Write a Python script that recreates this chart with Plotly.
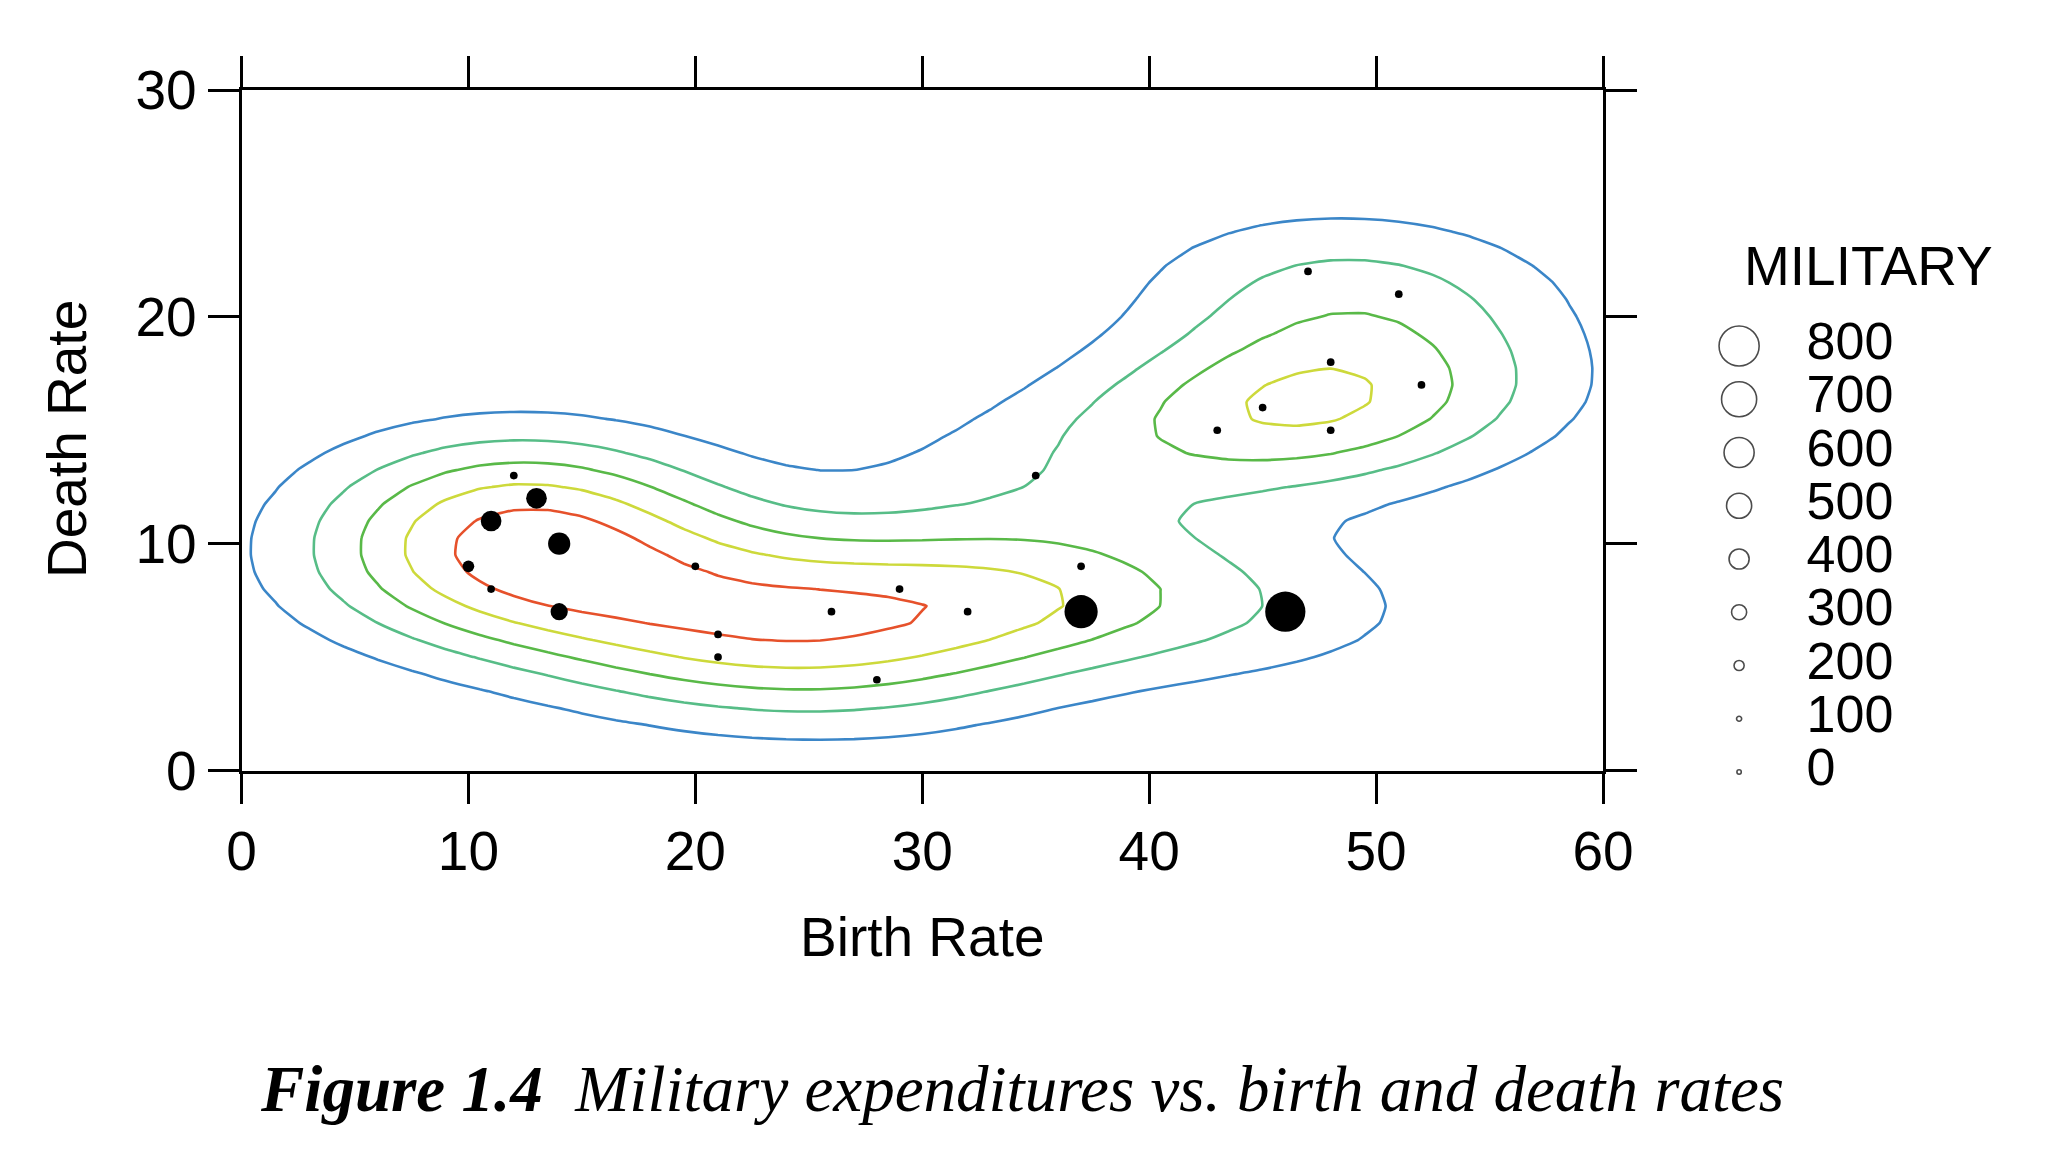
import numpy as np
import plotly.graph_objects as go

# ---------------- data ----------------
birth_rate = [12, 13, 11, 14, 10, 11, 14, 20, 21, 21, 26, 29, 32, 28, 37,
              37, 46, 35, 47, 51, 48, 52, 45, 43, 48]
death_rate = [13, 12, 11, 10, 9, 8, 7, 9, 6, 5, 7, 8, 7, 4, 9,
              7, 7, 13, 22, 21, 18, 17, 16, 15, 15]
military = [120, 380, 380, 410, 200, 120, 310, 120, 120, 120, 120, 120, 120, 120, 120,
            630, 770, 120, 120, 120, 120, 120, 120, 120, 120]
legend_values = [800, 700, 600, 500, 400, 300, 200, 100, 0]
x_ticks = [0, 10, 20, 30, 40, 50, 60]
y_ticks = [0, 10, 20, 30]
contour_colors = ["#3b86c8", "#57bd87", "#59b948", "#cdd93b", "#e6512b"]

W, H = 2046, 1164
FONT = "Liberation Sans"


def size_px(v):
    d = 1.7 + 0.05 * np.asarray(v, dtype=float)
    return np.maximum(d, 6.0)


# ---------------- kernel density (product Gaussian kernel) ----------------
bx = np.array(birth_rate, float)
dy = np.array(death_rate, float)
hx, hy = 6.2, 2.35
gx = np.arange(-6, 66.01, 1.5)
gy = np.arange(-4, 34.01, 0.75)
X, Y = np.meshgrid(gx, gy)
Z = np.zeros_like(X)
for xi, yi in zip(bx, dy):
    Z += np.exp(-0.5 * (((X - xi) / hx) ** 2 + ((Y - yi) / hy) ** 2))
Z /= Z.max()

lev_start, lev_step, n_lev = 0.17, 0.17, 5
lev_end = lev_start + lev_step * (n_lev - 1)
cscale = [[i / (n_lev - 1), c] for i, c in enumerate(contour_colors)]

fig = go.Figure()
fig.add_trace(go.Contour(
    x=gx, y=gy, z=Z,
    contours=dict(coloring="lines", start=lev_start, end=lev_end + 1e-6, size=lev_step),
    colorscale=cscale, zmin=lev_start, zmax=lev_end, zauto=False,
    line=dict(width=2.6, smoothing=0.5),
    showscale=False, hoverinfo="skip",
))

fig.add_trace(go.Scatter(
    x=birth_rate, y=death_rate, mode="markers",
    marker=dict(size=size_px(military), color="#000000", opacity=1, line=dict(width=0)),
    showlegend=False, hoverinfo="skip",
))

# ---------------- size legend on its own axes ----------------
fig.add_trace(go.Scatter(
    x=[0.25] * len(legend_values), y=legend_values, mode="markers",
    marker=dict(symbol="circle-open", size=size_px(legend_values) - 1.6, color="black",
                line=dict(width=1.6)),
    xaxis="x2", yaxis="y2", showlegend=False, hoverinfo="skip",
))
fig.add_trace(go.Scatter(
    x=[0.415] * len(legend_values), y=legend_values, mode="text",
    text=[str(v) for v in legend_values], textposition="middle right",
    textfont=dict(family=FONT, size=52, color="black"),
    xaxis="x2", yaxis="y2", showlegend=False, hoverinfo="skip",
))

# pixel geometry of the main panel
px_left, px_right, px_top, px_bottom = 241.5, 1603.0, 90.0, 770.5
# legend axis mapping: value 800 at y=346 px, 0 at y=772 px
per_unit = (772 - 346) / 800.0
y2_lo = 0 - (H - 772) / per_unit
y2_hi = 800 + 346 / per_unit

axis_common = dict(
    showline=True, linecolor="black", linewidth=2.6, mirror="ticks",
    ticks="outside", ticklen=31, tickwidth=2.6, tickcolor="black",
    showgrid=False, zeroline=False, automargin=False,
    tickfont=dict(family=FONT, size=55, color="black"),
)

fig.update_layout(
    width=W, height=H, margin=dict(l=0, r=0, t=0, b=0, pad=0, autoexpand=False),
    paper_bgcolor="white", plot_bgcolor="white",
    showlegend=False,
    xaxis=dict(domain=[px_left / W, px_right / W], range=[0, 60], tickvals=x_ticks,
               anchor="y", **axis_common),
    yaxis=dict(domain=[1 - px_bottom / H, 1 - px_top / H], range=[0, 30], tickvals=y_ticks,
               anchor="x", **axis_common),
    xaxis2=dict(domain=[0.8, 1.0], range=[0, 1], visible=False, anchor="y2"),
    yaxis2=dict(domain=[0, 1], range=[y2_lo, y2_hi], visible=False, anchor="x2"),
    annotations=[
        dict(text="Birth Rate", x=922 / W, y=1 - 937 / H, xref="paper", yref="paper",
             showarrow=False, xanchor="center", yanchor="middle",
             font=dict(family=FONT, size=55, color="black")),
        dict(text="Death Rate", x=67 / W, y=1 - 439 / H, xref="paper", yref="paper",
             showarrow=False, xanchor="center", yanchor="middle", textangle=-90,
             font=dict(family=FONT, size=55, color="black")),
        dict(text="MILITARY", x=1868 / W, y=1 - 266 / H, xref="paper", yref="paper",
             showarrow=False, xanchor="center", yanchor="middle",
             font=dict(family=FONT, size=55, color="black")),
        dict(text="<b><i>Figure 1.4</i></b>&nbsp;&nbsp;<i>Military expenditures vs. birth and death rates</i>",
             x=1022 / W, y=1 - 1089 / H, xref="paper", yref="paper",
             showarrow=False, xanchor="center", yanchor="middle",
             font=dict(family="Liberation Serif", size=65, color="black")),
    ],
)

fig.write_html("out.html")
